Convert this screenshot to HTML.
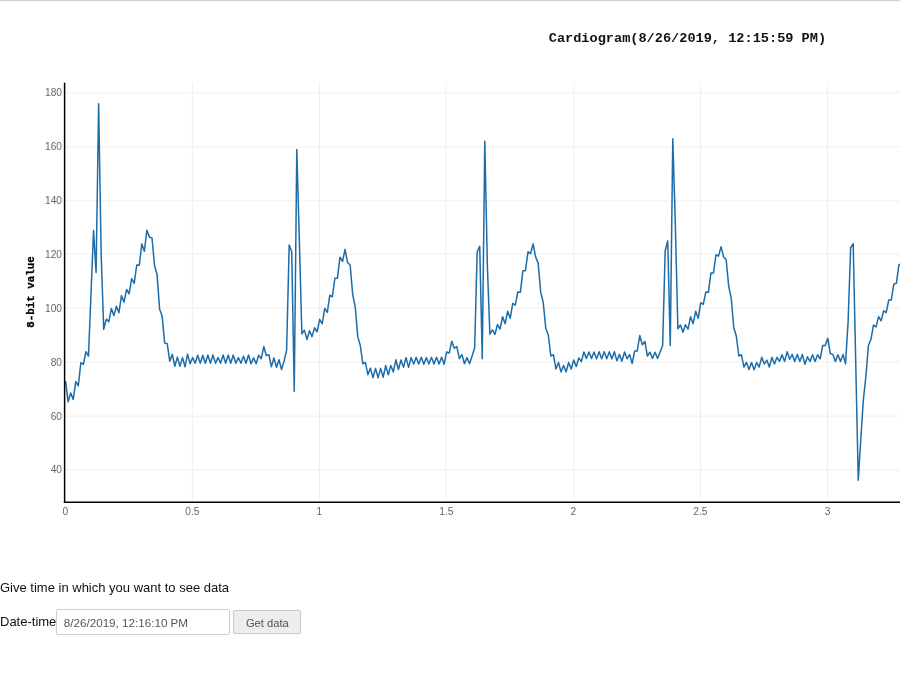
<!DOCTYPE html>
<html><head><meta charset="utf-8"><style>
html,body{margin:0;padding:0;background:#fff;}
body{width:900px;height:675px;overflow:hidden;position:relative;font-family:"Liberation Sans",sans-serif;}
#topline{position:absolute;left:0;top:0;width:900px;height:1px;background:#d2d2d2;}
#topline2{position:absolute;left:0;top:1px;width:900px;height:1px;background:#f7f7f7;}
svg{position:absolute;left:0;top:0;will-change:transform;}
.t1{position:absolute;left:0;top:579.5px;font-size:13px;color:#111;white-space:nowrap;}
.lbl{position:absolute;left:0;top:614px;font-size:13px;color:#111;white-space:nowrap;}
.inp{position:absolute;left:56.3px;top:609.2px;width:171.3px;height:23.6px;border:1px solid #cfcfcf;border-radius:2px;background:#fff;box-sizing:content-box;}
.inp span{position:absolute;left:6.5px;top:6.1px;font-size:11.65px;color:#555;white-space:nowrap;}
.btn{position:absolute;left:233px;top:610px;width:66px;height:21.5px;border:1px solid #c8c8c8;border-radius:2px;background:#ededed;}
.btn span{position:absolute;left:11.9px;top:5.7px;font-size:11.2px;color:#505050;white-space:nowrap;}
</style></head><body>
<div id="topline"></div><div id="topline2"></div>
<svg width="900" height="675" viewBox="0 0 900 675">
<g stroke="#efefef" stroke-width="1" fill="none"><line x1="64.60" y1="470.12" x2="900" y2="470.12"/><line x1="64.60" y1="416.06" x2="900" y2="416.06"/><line x1="64.60" y1="361.90" x2="900" y2="361.90"/><line x1="64.60" y1="307.89" x2="900" y2="307.89"/><line x1="64.60" y1="253.98" x2="900" y2="253.98"/><line x1="64.60" y1="200.92" x2="900" y2="200.92"/><line x1="64.60" y1="146.96" x2="900" y2="146.96"/><line x1="64.60" y1="92.80" x2="900" y2="92.80"/><line x1="192.33" y1="82.75" x2="192.33" y2="502.3"/><line x1="319.46" y1="82.75" x2="319.46" y2="502.3"/><line x1="445.99" y1="82.75" x2="445.99" y2="502.3"/><line x1="574.02" y1="82.75" x2="574.02" y2="502.3"/><line x1="700.55" y1="82.75" x2="700.55" y2="502.3"/><line x1="827.48" y1="82.75" x2="827.48" y2="502.3"/></g>
<path d="M65.60,381.05 L68.14,401.79 L70.68,392.90 L73.22,399.36 L75.76,381.59 L78.30,385.90 L80.84,362.74 L83.38,364.35 L85.92,351.70 L88.47,356.01 L91.01,293.53 L93.55,230.51 L96.09,272.52 L98.63,103.67 L101.17,254.48 L103.71,329.35 L106.25,319.11 L108.79,321.81 L111.33,308.61 L113.87,315.61 L116.41,306.19 L118.95,312.65 L121.49,295.41 L124.03,302.15 L126.57,289.49 L129.12,293.80 L131.66,278.72 L134.20,283.30 L136.74,264.98 L139.28,265.25 L141.82,243.98 L144.36,251.25 L146.90,230.24 L149.44,237.24 L151.98,238.05 L154.52,265.25 L157.06,274.68 L159.60,308.88 L162.14,316.15 L164.68,343.08 L167.22,343.62 L169.76,361.12 L172.31,354.39 L174.85,366.24 L177.39,357.08 L179.93,366.24 L182.47,357.62 L185.01,366.78 L187.55,354.12 L190.09,363.82 L192.63,357.62 L195.17,363.28 L197.71,355.20 L200.25,363.28 L202.79,355.20 L205.33,363.28 L207.87,354.93 L210.41,363.28 L212.95,354.93 L215.50,363.28 L218.04,357.62 L220.58,363.28 L223.12,354.93 L225.66,363.28 L228.20,354.93 L230.74,363.28 L233.28,354.93 L235.82,363.28 L238.36,357.62 L240.90,363.28 L243.44,356.28 L245.98,363.28 L248.52,354.93 L251.06,363.82 L253.60,357.89 L256.15,363.82 L258.69,355.20 L261.23,358.70 L263.77,346.58 L266.31,355.47 L268.85,354.66 L271.39,366.78 L273.93,357.89 L276.47,367.32 L279.01,359.78 L281.55,369.47 L284.09,361.12 L286.63,349.81 L289.17,245.05 L291.71,251.79 L294.25,391.28 L296.79,149.45 L299.34,241.02 L301.88,333.92 L304.42,330.15 L306.96,339.58 L309.50,330.69 L312.04,336.62 L314.58,327.73 L317.12,331.77 L319.66,319.38 L322.20,323.96 L324.74,308.34 L327.28,312.38 L329.82,295.14 L332.36,296.76 L334.90,278.18 L337.44,278.18 L339.98,257.17 L342.53,261.48 L345.07,249.36 L347.61,262.56 L350.15,264.98 L352.69,294.34 L355.23,306.99 L357.77,336.89 L360.31,345.50 L362.85,363.82 L365.39,362.47 L367.93,374.86 L370.47,368.12 L373.01,377.82 L375.55,368.39 L378.09,377.82 L380.63,368.39 L383.18,377.28 L385.72,365.43 L388.26,374.86 L390.80,365.43 L393.34,371.89 L395.88,359.78 L398.42,369.47 L400.96,360.05 L403.50,367.32 L406.04,357.62 L408.58,367.32 L411.12,357.62 L413.66,364.09 L416.20,357.35 L418.74,364.09 L421.28,357.35 L423.82,364.35 L426.37,357.62 L428.91,364.09 L431.45,357.35 L433.99,364.09 L436.53,357.35 L439.07,364.09 L441.61,357.35 L444.15,364.35 L446.69,351.97 L449.23,353.04 L451.77,341.19 L454.31,348.20 L456.85,346.58 L459.39,358.70 L461.93,354.66 L464.47,363.82 L467.01,357.62 L469.56,363.82 L472.10,356.01 L474.64,347.93 L477.18,251.79 L479.72,246.40 L482.26,358.70 L484.80,141.37 L487.34,265.25 L489.88,334.19 L492.42,329.88 L494.96,334.46 L497.50,324.50 L500.04,329.08 L502.58,316.69 L505.12,323.69 L507.66,311.30 L510.21,318.30 L512.75,303.49 L515.29,305.11 L517.83,291.91 L520.37,292.18 L522.91,270.64 L525.45,270.64 L527.99,251.79 L530.53,253.67 L533.07,243.98 L535.61,256.90 L538.15,263.10 L540.69,291.91 L543.23,302.68 L545.77,328.27 L548.31,335.00 L550.85,356.01 L553.40,354.66 L555.94,368.93 L558.48,362.47 L561.02,371.89 L563.56,365.43 L566.10,371.89 L568.64,362.47 L571.18,368.93 L573.72,360.05 L576.26,366.51 L578.80,357.89 L581.34,361.66 L583.88,351.97 L586.42,358.43 L588.96,351.97 L591.50,358.43 L594.04,351.97 L596.59,358.70 L599.13,351.70 L601.67,358.70 L604.21,351.70 L606.75,358.70 L609.29,351.70 L611.83,358.70 L614.37,351.70 L616.91,360.85 L619.45,354.39 L621.99,361.12 L624.53,351.97 L627.07,358.70 L629.61,354.66 L632.15,363.55 L634.69,350.89 L637.23,350.89 L639.78,335.54 L642.32,344.70 L644.86,341.46 L647.40,356.01 L649.94,352.24 L652.48,358.43 L655.02,352.24 L657.56,358.43 L660.10,351.97 L662.64,345.50 L665.18,250.71 L667.72,241.02 L670.26,345.50 L672.80,138.68 L675.34,224.86 L677.88,328.81 L680.43,325.04 L682.97,332.31 L685.51,324.77 L688.05,329.08 L690.59,316.69 L693.13,323.69 L695.67,311.30 L698.21,318.30 L700.75,302.68 L703.29,304.30 L705.83,291.91 L708.37,292.45 L710.91,273.06 L713.45,273.06 L715.99,254.75 L718.53,256.10 L721.07,246.67 L723.62,256.90 L726.16,259.60 L728.70,286.26 L731.24,298.11 L733.78,327.73 L736.32,336.08 L738.86,356.01 L741.40,354.66 L743.94,367.05 L746.48,362.47 L749.02,369.47 L751.56,362.47 L754.10,369.74 L756.64,362.47 L759.18,367.05 L761.72,357.35 L764.26,364.09 L766.81,360.05 L769.35,367.05 L771.89,357.35 L774.43,364.09 L776.97,357.35 L779.51,361.39 L782.05,354.66 L784.59,361.39 L787.13,351.70 L789.67,359.24 L792.21,354.39 L794.75,361.39 L797.29,354.39 L799.83,361.39 L802.37,354.39 L804.91,364.35 L807.46,356.81 L810.00,361.39 L812.54,354.66 L815.08,361.39 L817.62,354.66 L820.16,358.97 L822.70,345.50 L825.24,345.50 L827.78,338.23 L830.32,353.58 L832.86,354.39 L835.40,361.39 L837.94,354.66 L840.48,361.39 L843.02,354.39 L845.56,363.82 L848.10,321.81 L850.65,247.75 L853.19,243.71 L855.73,362.20 L858.27,480.15 L860.81,438.95 L863.35,399.90 L865.89,376.47 L868.43,345.50 L870.97,339.31 L873.51,325.04 L876.05,326.92 L878.59,316.69 L881.13,320.73 L883.67,310.76 L886.21,312.65 L888.75,299.99 L891.29,299.99 L893.84,284.10 L896.38,283.30 L898.92,264.71 L901.46,263.91" fill="none" stroke="#1c6ca9" stroke-width="1.5" stroke-linejoin="round"/>
<g stroke="#000" stroke-width="1.5" fill="none">
<line x1="64.6" y1="82.75" x2="64.6" y2="503.05"/>
<line x1="63.849999999999994" y1="502.3" x2="900" y2="502.3"/>
</g>
<g font-family="Liberation Sans, sans-serif" font-size="10.2" fill="#666"><text x="62" y="472.72" text-anchor="end">40</text><text x="62" y="419.66" text-anchor="end">60</text><text x="62" y="365.90" text-anchor="end">80</text><text x="62" y="312.04" text-anchor="end">100</text><text x="62" y="258.28" text-anchor="end">120</text><text x="62" y="204.42" text-anchor="end">140</text><text x="62" y="149.56" text-anchor="end">160</text><text x="62" y="96.20" text-anchor="end">180</text><text x="65.30" y="514.8" text-anchor="middle">0</text><text x="192.33" y="514.8" text-anchor="middle">0.5</text><text x="319.36" y="514.8" text-anchor="middle">1</text><text x="446.39" y="514.8" text-anchor="middle">1.5</text><text x="573.42" y="514.8" text-anchor="middle">2</text><text x="700.45" y="514.8" text-anchor="middle">2.5</text><text x="827.48" y="514.8" text-anchor="middle">3</text></g>
<text x="687.4" y="41.5" text-anchor="middle" font-family="Liberation Mono, monospace" font-weight="bold" font-size="13.6" fill="#111">Cardiogram(8/26/2019, 12:15:59 PM)</text>
<text transform="translate(33.6,292) rotate(-90)" text-anchor="middle" font-family="Liberation Mono, monospace" font-weight="bold" font-size="10.8" fill="#000" stroke="#000" stroke-width="0.3">8-bit value</text>
</svg>
<div class="t1">Give time in which you want to see data</div>
<div class="lbl">Date-time</div>
<div class="inp"><span>8/26/2019, 12:16:10 PM</span></div>
<div class="btn"><span>Get data</span></div>
</body></html>
